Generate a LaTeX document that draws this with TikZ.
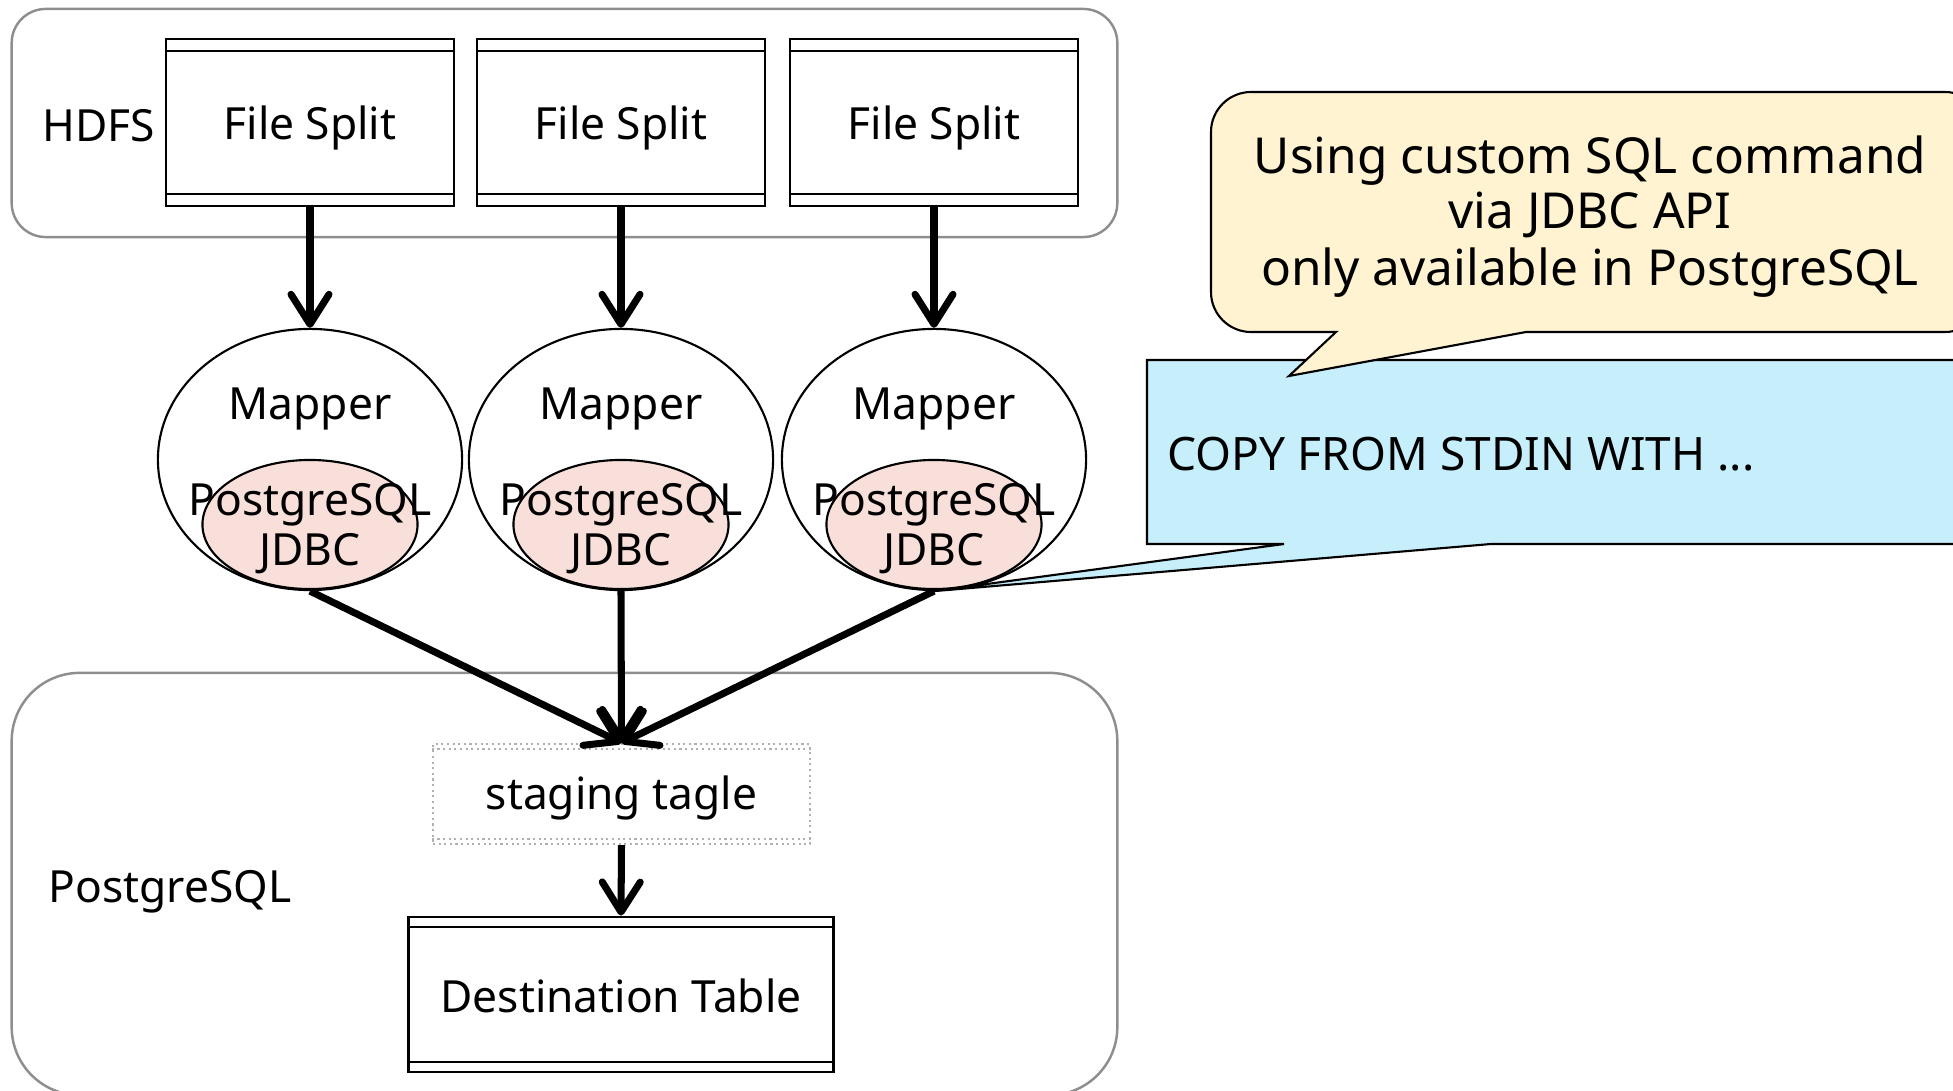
\documentclass[tikz,border=0pt]{standalone}
\usepackage{fontspec}
\setmainfont{Noto Sans}
\usetikzlibrary{shapes.geometric,arrows.meta}
\definecolor{yel}{HTML}{FFF3D1}
\definecolor{cya}{HTML}{C6EEFB}
\definecolor{pnk}{HTML}{F8DFD9}
\definecolor{grp}{HTML}{8E8E8E}
\begin{document}
\begin{tikzpicture}[x=0.01cm,y=-0.01cm,
  font=\fontsize{12.6}{15.8}\selectfont,
  txt/.style={inner sep=0pt, anchor=base},
  grpbox/.style={draw=grp, line width=0.7pt, inner sep=0pt},
  tbl/.style={draw, line width=0.8pt, inner sep=0pt,
    path picture={
      \draw[line width=0.8pt] ([yshift=-#1]path picture bounding box.north west) -- ([yshift=-#1]path picture bounding box.north east);
      \draw[line width=0.8pt] ([yshift=#1]path picture bounding box.south west) -- ([yshift=#1]path picture bounding box.south east);
    }},
  mapper/.style={ellipse, draw, line width=0.6pt, minimum width=3.04cm, minimum height=2.61cm, inner sep=0pt},
  jdbc/.style={ellipse, draw, fill=pnk, line width=0.6pt, minimum width=2.15cm, minimum height=1.29cm, inner sep=0pt},
  arr/.style={line width=2pt, -{Straight Barb[length=0.3cm, width=0.38cm, round]}},
  callout/.style={draw, line width=0.6pt},
  bigtxt/.style={txt, font=\fontsize{14.1}{16}\selectfont},
]
\clip (0,0) rectangle (1953,1091);
\useasboundingbox (0,0) rectangle (1953,1091);

% group boxes
\node[grpbox, rounded corners=0.34cm, minimum width=11.05cm, minimum height=2.28cm] (hdfsbox) at (564.5,123) {};
\node[grpbox, rounded corners=0.68cm, minimum width=11.05cm, minimum height=4.22cm] (pgbox) at (564.5,884) {};
\node[txt] (hdfsl) at (99,142) {HDFS};
\node[txt] (pgl) at (170,902) {PostgreSQL};

% file splits
\node[tbl=0.12cm, minimum width=2.88cm, minimum height=1.67cm] (f1) at (310,122.5) {};
\node[tbl=0.12cm, minimum width=2.88cm, minimum height=1.67cm] (f2) at (621,122.5) {};
\node[tbl=0.12cm, minimum width=2.88cm, minimum height=1.67cm] (f3) at (934,122.5) {};
\node[txt] (f1t) at (310,140) {File Split};
\node[txt] (f2t) at (621,140) {File Split};
\node[txt] (f3t) at (934,140) {File Split};

% mappers
\foreach \i/\x in {1/310,2/621,3/934}{
  \node[mapper] (m\i) at (\x,459.5) {};
  \node[jdbc] (j\i) at (\x,524.5) {};
  \node[txt] (mt\i) at (\x,420) {Mapper};
  \node[txt] (pt\i) at (\x,515) {PostgreSQL};
  \node[txt] (jt\i) at (\x,565) {JDBC};
}

% staging table
\node[draw=grp!70, densely dotted, line width=0.6pt, minimum width=3.77cm, minimum height=1.0cm, inner sep=0pt] (stg) at (621.5,794) {};
\draw[grp!70, densely dotted, line width=0.6pt] ([yshift=-0.06cm]stg.north west) -- ([yshift=-0.06cm]stg.north east);
\draw[grp!70, densely dotted, line width=0.6pt] ([yshift=0.06cm]stg.south west) -- ([yshift=0.06cm]stg.south east);
\node[txt] (stgt) at (621.5,810) {staging tagle};

% destination table
\node[tbl=0.10cm, minimum width=4.24cm, minimum height=1.55cm] (dst) at (621,994.5) {};
\node[txt] (dstt) at (621,1012) {Destination Table};

% arrows
\draw[arr] (f1.south) -- (m1.north);
\draw[arr] (f2.south) -- (m2.north);
\draw[arr] (f3.south) -- (m3.north);
\draw[arr] (m1.south) -- (stg.north);
\draw[arr] (m2.south) -- (stg.north);
\draw[arr] (m3.south) -- (stg.north);
\draw[arr] (stg.south) -- (dst.north);

% blue callout
\draw[callout, fill=cya] (1147,360) -- (1985,360) -- (1985,544) -- (1491,544) -- (m3.south) -- (1284,544) -- (1147,544) -- cycle;
\node[txt, anchor=base west, font=\fontsize{13.1}{15.8}\selectfont] (bt) at (1167,471) {COPY FROM STDIN WITH ...};

% yellow callout
\coordinate (ytip) at (1289,376);
\draw[callout, fill=yel] (1211,200) [rounded corners=0.4cm] -- (1211,92) -- (1985,92) -- (1985,332) [sharp corners] -- (1526,332) -- (ytip) -- (1336,332) [rounded corners=0.4cm] -- (1211,332) -- cycle;
\node[bigtxt] (y1) at (1590,174) {Using custom SQL command};
\node[bigtxt] (y2) at (1590,229) {via JDBC API};
\node[bigtxt] (y3) at (1590,286) {only available in PostgreSQL};
\end{tikzpicture}
\end{document}
